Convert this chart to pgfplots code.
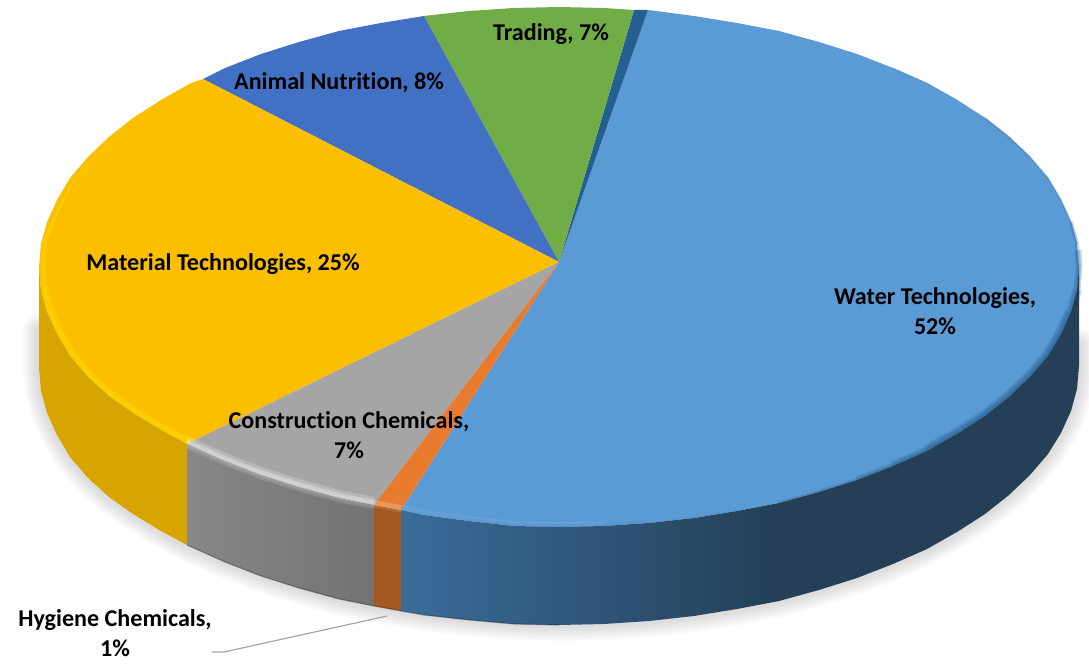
\documentclass[border=0pt]{standalone}
\usepackage{fontspec}
\setmainfont[Ligatures=NoCommon]{Carlito}
\usepackage{pgfplots}
\pgfplotsset{compat=1.18}
\definecolor{cBlue}{HTML}{5B9BD5}
\definecolor{cDark}{HTML}{255E91}
\definecolor{cGreen}{HTML}{70AD47}
\definecolor{cAnimal}{HTML}{4270C2}
\definecolor{cYellow}{HTML}{FBBF00}
\definecolor{cGray}{HTML}{A5A5A5}
\definecolor{cOrange}{HTML}{E97B2E}
\definecolor{sYellow}{HTML}{D8A400}
\definecolor{sOrange}{HTML}{A5581F}
\definecolor{sBlueA}{HTML}{3A6C9A}
\definecolor{sBlueB}{HTML}{243F56}
\definecolor{rim}{HTML}{FFD900}
\tikzset{lab/.style={font=\fontsize{24.2}{30}\selectfont\bfseries, align=center, text=black, inner sep=0pt}}
\begin{document}
\begin{tikzpicture}
\begin{axis}[
  scale only axis, width=1089bp, height=664bp,
  xmin=0, xmax=1089, ymin=0, ymax=664, y dir=reverse,
  hide axis, no markers,
  every axis plot/.append style={forget plot, line join=round}
]
% soft shadow under the disc
\pgfplotsinvokeforeach{32,27,22,17,12,7}{
\addplot[draw=black, opacity=.024, line width=#1bp, line cap=round] coordinates {
(39,330)(39,368)(41,391)(47,413)(57,435)(70,457)(88,478)(109,497)(133,514)(161,531)(187,545)(225,562)(261,576)(299,588)(339,599)(374,606)(401,611)(424,615)(469,620)(514,624)(559,625)(604,624)(649,621)(694,616)(737,609)(779,601)(819,590)(857,578)(893,564)(927,549)(957,532)(985,514)(1009,495)(1030,475)(1048,454)(1061,433)(1071,411)(1077,389)(1079,366)(1079,345)};
}
% top face slices
\addplot[fill=cBlue, draw=none] coordinates {
(559,262)(648,10)(694,16)(737,23)(779,31)(819,42)(857,54)(893,68)(927,83)(957,100)(985,118)(1009,137)(1030,157)(1048,178)(1061,200)(1071,222)(1077,244)(1079,267)(1077,290)(1071,312)(1061,334)(1048,356)(1030,377)(1009,397)(985,416)(957,434)(927,451)(893,466)(857,480)(819,492)(779,503)(737,511)(694,518)(649,523)(604,526)(559,527)(514,526)(469,521)(424,515)(401,510)} -- cycle;
\addplot[fill=cDark, draw=none] coordinates {(559,262)(634,10)(648,10)} -- cycle;
\addplot[fill=cGreen, draw=none] coordinates {(559,262)(424,16)(469,11)(514,8)(559,7)(604,8)(634,10)} -- cycle;
\addplot[fill=cAnimal, draw=none] coordinates {(559,262)(203,79)(225,68)(261,54)(299,42)(339,31)(381,23)(424,16)} -- cycle;
\addplot[fill=cYellow, draw=none] coordinates {(559,262)(187,444)(161,430)(133,413)(109,396)(88,377)(70,356)(57,334)(47,312)(41,290)(39,267)(41,244)(47,222)(57,200)(70,178)(88,157)(109,137)(133,118)(161,100)(191,83)(203,79)} -- cycle;
\addplot[fill=cGray, draw=none] coordinates {(559,262)(374,505)(339,498)(299,487)(261,475)(225,461)(187,444)} -- cycle;
\addplot[fill=cOrange, draw=none] coordinates {(559,262)(401,510)(374,505)} -- cycle;
% bevel highlights: yellow, tapering upward
\addplot[draw=rim, opacity=.25, line width=1.5bp] coordinates {(112,140)(92,160)(74,181)(63,201)(52,223)};
\addplot[draw=rim, opacity=.3, line width=2.5bp] coordinates {(74,181)(63,201)(52,223)(45,244)(43,267)(45,289)(50,310)(60,332)(73,354)(90,375)(111,394)(135,411)(163,428)(189,441)};
\addplot[draw=rim, opacity=.3, line width=5bp] coordinates {(52,223)(45,244)(43,267)(45,289)(50,310)(60,332)(73,354)(90,375)(111,394)(135,411)(163,428)(189,441)};
\addplot[draw=rim, opacity=.3, line width=8bp] coordinates {(45,289)(50,310)(60,332)(73,354)(90,375)(111,394)(135,411)(163,428)(189,441)};
\addplot[draw=white, opacity=.2, line width=10bp] coordinates {(187,441)(225,458)(261,472)(299,484)(339,495)(374,502)};
\addplot[draw=white, opacity=.3, line width=4bp] coordinates {(187,441)(225,458)(261,472)(299,484)(339,495)(374,502)};
\addplot[draw=white, opacity=.2, line width=6bp] coordinates {(374,503)(401,508)};
\addplot[draw=white, opacity=.07, line width=8bp] coordinates {(401,509)(424,514)(469,520)(514,525)(559,526)(604,525)};
\addplot[draw=cyan!50!blue!70, opacity=.2, line width=5bp] coordinates {(401,509)(424,514)(469,520)(514,525)(559,526)(604,525)(649,522)};
\addplot[draw=cyan!50!blue!70, opacity=.2, line width=3bp] coordinates {(469,520)(514,525)(559,526)(604,525)(649,522)(694,517)(737,510)};
% bevel shade on the right
\addplot[draw=cDark, opacity=.22, line width=13bp] coordinates {(927,451)(957,434)(985,416)(1009,397)(1030,377)(1048,356)(1061,334)(1071,312)};
\addplot[draw=cDark, opacity=.22, line width=10bp] coordinates {(893,466)(927,451)(957,434)(985,416)(1009,397)(1030,377)(1048,356)(1061,334)(1071,312)(1077,290)};
\addplot[draw=cDark, opacity=.25, line width=7bp] coordinates {(857,480)(893,466)(927,451)(957,434)(985,416)(1009,397)(1030,377)(1048,356)(1061,334)(1071,312)(1077,290)(1079,267)(1078,250)};
\addplot[draw=cDark, opacity=.25, line width=4bp] coordinates {(779,503)(819,492)(857,480)(893,466)(927,451)(957,434)(985,416)(1009,397)(1030,377)(1048,356)(1061,334)(1071,312)(1077,290)(1079,267)(1077,244)(1071,222)};
\addplot[draw=cDark, opacity=.3, line width=1.6bp] coordinates {(1077,244)(1071,222)(1061,200)(1048,178)(1030,157)(1009,137)(985,118)};
\addplot[draw=cDark, opacity=.2, line width=1bp] coordinates {(1030,157)(1009,137)(985,118)(957,100)(927,83)(893,68)};
% side faces
\addplot[fill=sYellow, draw=none] coordinates {(39,267)(41,290)(47,312)(57,334)(70,356)(88,377)(109,396)(133,413)(161,430)(187,444)(187,545)(161,531)(133,514)(109,497)(88,478)(70,457)(57,435)(47,413)(41,391)(39,368)} -- cycle;
\addplot[shade, left color=black!47, right color=black!55, draw=none] coordinates {(187,444)(225,461)(261,475)(299,487)(339,498)(374,505)(374,606)(339,599)(299,588)(261,576)(225,562)(187,545)} -- cycle;
\addplot[fill=sOrange, draw=none] coordinates {(374,505)(401,510)(401,611)(374,606)} -- cycle;
\addplot[shade, left color=sBlueA, right color=sBlueB, draw=none] coordinates {(401,510)(424,515)(469,521)(514,526)(559,527)(604,526)(649,523)(694,518)(737,511)(779,503)(780,503)(780,601)(779,601)(737,609)(694,616)(649,621)(604,624)(559,625)(514,624)(469,620)(424,615)(401,611)} -- cycle;
\addplot[fill=sBlueB, draw=none] coordinates {(779,503)(819,492)(857,480)(893,466)(927,451)(957,434)(985,416)(1009,397)(1030,377)(1048,356)(1061,334)(1071,312)(1077,290)(1079,267)(1079,366)(1077,389)(1071,411)(1061,433)(1048,454)(1030,475)(1009,495)(985,514)(957,532)(927,549)(893,564)(857,578)(819,590)(779,601)} -- cycle;
% soft start of the side below the rim
\addplot[draw=white, opacity=.12, line width=7bp] coordinates {(187,445)(225,462)(261,476)(299,488)(339,499)(374,506)};
\addplot[draw=white, opacity=.12, line width=3bp] coordinates {(187,445)(225,462)(261,476)(299,488)(339,499)(374,506)(401,511)};
% dark lower edge
\addplot[draw=black, opacity=.3, line width=1.2bp] coordinates {(187,545)(225,562)(261,576)(299,588)(339,599)(374,606)(401,611)(424,615)(469,620)(514,624)(559,625)};
% leader line
\addplot[draw=black!35, line width=1.2bp] coordinates {(387,616)(224,652)(212,652)};
% labels
\node[lab] at (axis cs:935,311) {Water Technologies,\\52\%};
\node[lab] at (axis cs:551,34) {Trading, 7\%};
\node[lab] at (axis cs:339,83) {Animal Nutrition, 8\%};
\node[lab] at (axis cs:223,264) {Material Technologies, 25\%};
\node[lab] at (axis cs:349,435) {Construction Chemicals,\\7\%};
\node[lab] at (axis cs:115,633) {Hygiene Chemicals,\\1\%};
\end{axis}
\path (current axis.south west) rectangle (current axis.north east);
\end{tikzpicture}
\end{document}
